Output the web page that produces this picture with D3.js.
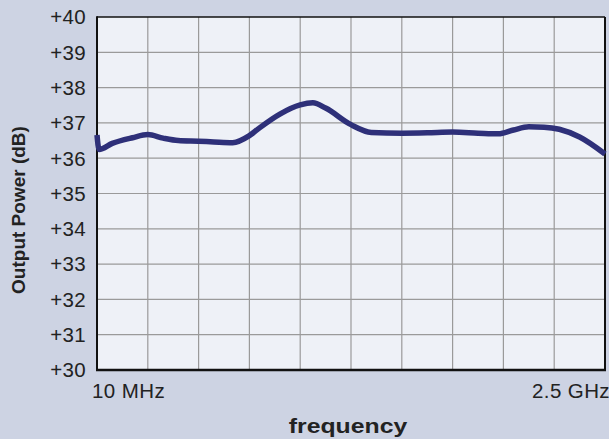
<!DOCTYPE html>
<html><head><meta charset="utf-8">
<script src="https://cdn.jsdelivr.net/npm/d3@7"></script>
<style>body{margin:0;background:#cdd3e3;}svg{display:block;}</style>
</head><body>
<script>
// frequency position in grid units (0 = 10 MHz, 10 = 2.5 GHz)
const freqPos = [0, 0.04, 0.3, 0.7, 1.0, 1.3, 1.6, 2.0, 2.3, 2.67, 3.0, 3.2, 3.6, 4.0, 4.25, 4.5, 5.0, 5.4, 6.0, 6.5, 7.0, 7.5, 7.9, 8.2, 8.5, 8.8, 9.1, 9.5, 10];
const powerDb = [36.66, 36.25, 36.42, 36.58, 36.67, 36.57, 36.5, 36.48, 36.46, 36.44, 36.64, 36.86, 37.25, 37.51, 37.57, 37.42, 36.95, 36.73, 36.71, 36.72, 36.74, 36.71, 36.69, 36.8, 36.89, 36.88, 36.82, 36.6, 36.12];
const yTicks = [30, 31, 32, 33, 34, 35, 36, 37, 38, 39, 40];
const xGrid = [0,1,2,3,4,5,6,7,8,9,10];
const xLabels = [{pos:0, text:"10 MHz"}, {pos:10, text:"2.5 GHz"}];

const W = 609, H = 439;
const m = {left: 97, top: 17, right: 4, bottom: 69};
const svg = d3.select("body").append("svg").attr("width", W).attr("height", H);
svg.append("rect").attr("width", W).attr("height", H).attr("fill", "#cdd3e3");

const x = d3.scaleLinear().domain([0, 10]).range([m.left, W - m.right]);
const y = d3.scaleLinear().domain([30, 40]).range([H - m.bottom, m.top]);

svg.append("rect").attr("x", x(0)).attr("y", y(40)).attr("width", x(10) - x(0)).attr("height", y(30) - y(40)).attr("fill", "#eef1f7");

const font = "'Liberation Sans', Arial, Helvetica, sans-serif";

// grid
svg.append("g").selectAll("line").data(xGrid.slice(1, -1)).join("line")
  .attr("x1", d => x(d)).attr("x2", d => x(d)).attr("y1", y(40)).attr("y2", y(30))
  .attr("stroke", "#9a9a9a").attr("stroke-width", 1.2);
svg.append("g").selectAll("line").data(yTicks.slice(1, -1)).join("line")
  .attr("x1", x(0)).attr("x2", x(10)).attr("y1", d => y(d)).attr("y2", d => y(d))
  .attr("stroke", "#9a9a9a").attr("stroke-width", 1.2);

// frame
svg.append("line").attr("x1", x(0)).attr("x2", x(10)).attr("y1", y(40)).attr("y2", y(40)).attr("stroke", "#111").attr("stroke-width", 1.5);
svg.append("line").attr("x1", x(10)).attr("x2", x(10)).attr("y1", y(40)).attr("y2", y(30)).attr("stroke", "#111").attr("stroke-width", 2);
svg.append("line").attr("x1", x(0)).attr("x2", x(0)).attr("y1", y(40) - 0.75).attr("y2", y(30) + 1).attr("stroke", "#111").attr("stroke-width", 2);
svg.append("line").attr("x1", x(0) - 1).attr("x2", x(10) + 1).attr("y1", y(30)).attr("y2", y(30)).attr("stroke", "#111").attr("stroke-width", 2.5);

// y tick labels
svg.append("g").selectAll("text").data(yTicks).join("text")
  .attr("x", 86).attr("y", d => y(d)).attr("dy", "0.36em")
  .attr("text-anchor", "end").attr("font-family", font).attr("font-size", 20.5).attr("letter-spacing", 0.3).attr("fill", "#222")
  .text(d => "+" + d);

// x labels
svg.append("text").attr("x", 92).attr("y", 398).attr("font-family", font).attr("font-size", 20.5).attr("letter-spacing", 0.4).attr("fill", "#222").text(xLabels[0].text);
svg.append("text").attr("x", 610).attr("y", 398).attr("text-anchor", "end").attr("font-family", font).attr("font-size", 20.5).attr("letter-spacing", 0.4).attr("fill", "#222").text(xLabels[1].text);

// axis titles
svg.append("text").attr("transform", "translate(348,433) scale(1.18,1)").attr("text-anchor", "middle").attr("font-family", font).attr("font-weight", "bold").attr("font-size", 21).attr("fill", "#222").text("frequency");
svg.append("text").attr("transform", "translate(25,210) rotate(-90)").attr("text-anchor", "middle").attr("font-family", font).attr("font-weight", "bold").attr("font-size", 19).attr("fill", "#222").text("Output Power (dB)");

// line
const data = freqPos.map((p, i) => [p, powerDb[i]]);
svg.append("path").datum(data)
  .attr("d", d3.line().x(d => x(d[0])).y(d => y(d[1])).curve(d3.curveMonotoneX))
  .attr("fill", "none").attr("stroke", "#2e3079").attr("stroke-width", 5.5).attr("stroke-linejoin", "round");
</script>
</body></html>
